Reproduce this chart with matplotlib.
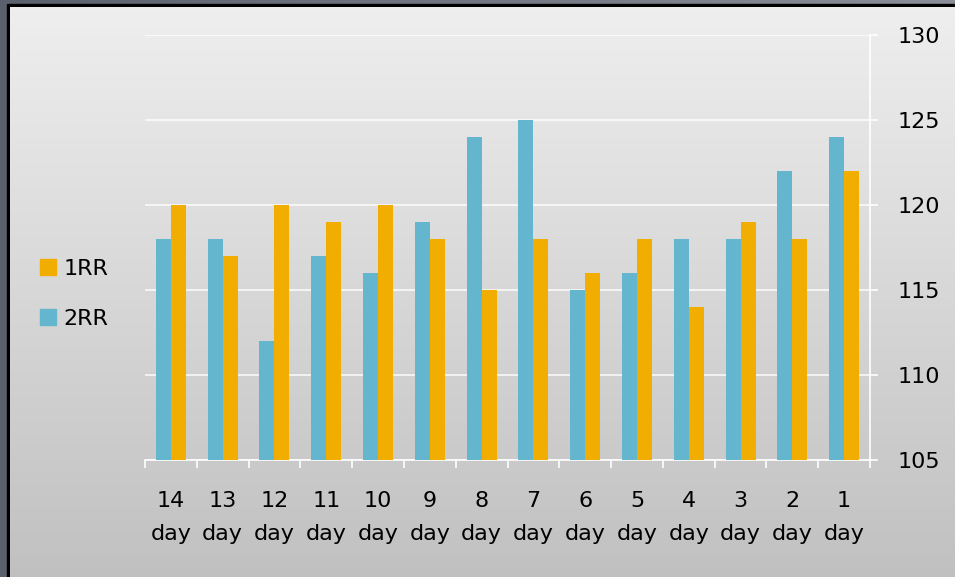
import numpy as np
import matplotlib
matplotlib.use("Agg")
import matplotlib.pyplot as plt
from matplotlib.patches import Rectangle, Patch

days = ["14", "13", "12", "11", "10", "9", "8", "7", "6", "5", "4", "3", "2", "1"]
rr1 = [120, 117, 120, 119, 120, 118, 115, 118, 116, 118, 114, 119, 118, 122]
rr2 = [118, 118, 112, 117, 116, 119, 124, 125, 115, 116, 118, 118, 122, 124]

blue = "#63b6ce"
orange = "#f2ae00"

plt.rcParams["font.family"] = "DejaVu Sans"

fig = plt.figure(figsize=(9.55, 5.77), dpi=100)
W, H = 955, 577

# background: outer frame, black line, inner gray gradient
bg = fig.add_axes([0, 0, 1, 1], zorder=0)
bg.set_xlim(0, W)
bg.set_ylim(H, 0)
bg.axis("off")
gx = np.linspace(0, 1, 200)
frame = (np.outer(1 - gx, [0.36, 0.38, 0.43]) + np.outer(gx, [0.54, 0.56, 0.60])).reshape(1, 200, 3)
bg.imshow(frame, extent=[0, W, H, 0], aspect="auto", zorder=0)
bg.add_patch(Rectangle((7, 4), W, H, color="black", zorder=1))
gy = np.linspace(0, 1, 200)
inner = np.outer(0.935 - 0.18 * gy, [1, 1, 1]).reshape(200, 1, 3)
bg.imshow(inner, extent=[10, W, H, 7], aspect="auto", zorder=2)

ax = fig.add_axes([145 / W, 1 - 460 / H, 725 / W, 425 / H], zorder=1)
ax.set_facecolor("none")

x = np.arange(len(days))
w = 0.29
ax.bar(x - w / 2, rr2, w, color=blue, zorder=3)
ax.bar(x + w / 2, rr1, w, color=orange, zorder=3)

ax.set_ylim(105, 130)
ax.set_xlim(-0.5, len(days) - 0.5)
ax.set_yticks(range(105, 131, 5))
ax.yaxis.tick_right()
ax.grid(axis="y", color="white", linewidth=1.2, alpha=0.85, zorder=1)

for s in ["left", "top"]:
    ax.spines[s].set_visible(False)
for s in ["right", "bottom"]:
    ax.spines[s].set_color("white")
    ax.spines[s].set_linewidth(1.2)

ax.set_xticks(x)
ax.set_xticklabels([d + "\nday" for d in days], linespacing=1.85)
ax.set_xticks(np.arange(-0.5, len(days)), minor=True)
ax.tick_params(axis="x", which="major", length=0, pad=22, labelsize=16, colors="black")
ax.tick_params(axis="x", which="minor", length=6, width=1.2, color="white")
ax.tick_params(axis="y", length=6, width=1.2, color="white", pad=14, labelsize=16)

handles = [Patch(color=orange, label="1RR"), Patch(color=blue, label="2RR")]
fig.legend(handles=handles, loc="center left", bbox_to_anchor=(20 / W, 1 - 294 / H),
           frameon=False, fontsize=16, handlelength=0.7, handleheight=0.7,
           handletextpad=0.35, labelspacing=1.35)

fig.savefig("out.png", dpi=100)
